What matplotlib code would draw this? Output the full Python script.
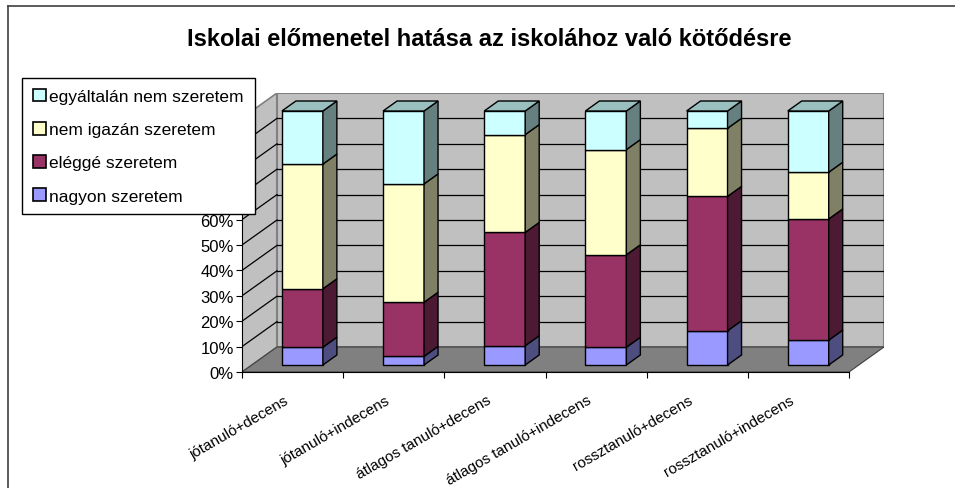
"""
Iskolai előmenetel hatása az iskolához való kötődésre - 3D stacked 100% bars
"""
import matplotlib.pyplot as plt
import matplotlib.transforms as mtransforms
from matplotlib.patches import Polygon, Patch
from matplotlib.lines import Line2D
import numpy as np

plt.rcParams['font.family'] = ['Liberation Sans', 'DejaVu Sans']

# adatok (%)
categories = ['jótanuló+decens', 'jótanuló+indecens', 'átlagos tanuló+decens',
              'átlagos tanuló+indecens', 'rossztanuló+decens', 'rossztanuló+indecens']
nagyon = [7.0, 3.4, 7.6, 7.0, 13.5, 9.8]
eleggé = [23.0, 21.3, 44.6, 36.4, 52.9, 47.7]
nem_igazan = [49.1, 46.6, 38.5, 41.4, 26.8, 18.4]
egyaltalan = [20.9, 28.7, 9.3, 15.2, 6.8, 24.1]

series = [nagyon, eleggé, nem_igazan, egyaltalan]
labels = ['nagyon szeretem', 'eléggé szeretem', 'nem igazán szeretem', 'egyáltalán nem szeretem']
front_cols = ['#9999FF', '#993366', '#FFFFCC', '#CCFFFF']
side_cols = ['#4D4D80', '#4D1A33', '#808066', '#668080']
top_cols = ['#7373BF', '#73264D', '#BFBF99', '#99BFBF']

# geometry (pixels of the reference picture)
W, H = 955, 489
x0_px, x1_px, y0_px, y100_px = 242, 849, 373, 119
ux = (x1_px - x0_px) / len(categories)
uy = (y0_px - y100_px) / 100
DX = 35 / ux      # depth offset in data units
DY = 25 / uy
d0, d1 = 0.28, 0.68
bw = 0.405

fig = plt.figure(figsize=(W / 100, H / 100), dpi=100)
ax = fig.add_axes([x0_px / W, (H - y0_px) / H,
                   (len(categories) + DX) * ux / W, (100 + DY) * uy / H])
n = len(categories)
ax.set_xlim(0, n + DX)
ax.set_ylim(0, 100 + DY)
ax.patch.set_alpha(0)

# walls and floor
wall = '#C0C0C0'
edge = '#808080'
ax.add_patch(Polygon([(0, 0), (DX, DY), (DX, 100 + DY), (0, 100)],
                     closed=True, fc=wall, ec=edge, lw=1.2, zorder=0))
ax.add_patch(Polygon([(DX, DY), (n + DX, DY), (n + DX, 100 + DY), (DX, 100 + DY)],
                     closed=True, fc=wall, ec=edge, lw=1.5, zorder=0))
ax.add_patch(Polygon([(0, 0), (n, 0), (n + DX, DY), (DX, DY)],
                     closed=True, fc='#808080', ec='#404040', lw=0.8, zorder=0.5))

# gridlines on back wall and left wall
for v in range(10, 100, 10):
    ax.plot([DX, n + DX], [v + DY, v + DY], color='black', lw=0.9, zorder=0.6)
    ax.plot([0, DX], [v, v + DY], color='black', lw=0.9, zorder=0.6)

# bars
xc = np.arange(n) + 0.5
bottom = np.zeros(n)
ddx, ddy = (d1 - d0) * DX, (d1 - d0) * DY
for k, vals in enumerate(series):
    vals = np.array(vals)
    ax.bar(xc + d0 * DX, vals, bottom=bottom + d0 * DY, width=bw,
           color=front_cols[k], edgecolor='black', lw=1.0, zorder=2)
    for i in range(n):
        xr = xc[i] + d0 * DX + bw / 2
        b = bottom[i] + d0 * DY
        t = b + vals[i]
        ax.add_patch(Polygon([(xr, b), (xr + ddx, b + ddy), (xr + ddx, t + ddy), (xr, t)],
                             closed=True, fc=side_cols[k], ec='black', lw=1.0, zorder=2))
        if k == len(series) - 1:
            xl = xr - bw
            ax.add_patch(Polygon([(xl, t), (xr, t), (xr + ddx, t + ddy), (xl + ddx, t + ddy)],
                                 closed=True, fc=top_cols[k], ec='black', lw=1.0, zorder=2))
    bottom = bottom + vals

# axes
for s in ['top', 'right']:
    ax.spines[s].set_visible(False)
ax.spines['left'].set_bounds(0, 100)
ax.spines['bottom'].set_bounds(0, n)
ax.spines['left'].set_zorder(3)
ax.spines['bottom'].set_zorder(3)
ax.set_yticks(np.arange(0, 101, 10))
ax.set_yticklabels([f'{v}%' for v in range(0, 101, 10)], fontsize=12)
ax.set_xticks(np.arange(0, n + 1))
ax.set_xticklabels([])
ax.set_xticks(xc, minor=True)
ax.set_xticklabels(categories, minor=True, fontsize=11, rotation=30,
                   ha='right', rotation_mode='anchor')
ax.tick_params(axis='y', direction='out', length=4, pad=2)
ax.tick_params(axis='x', which='major', direction='out', length=4)
ax.tick_params(axis='x', which='minor', length=0, pad=15)
shift = mtransforms.ScaledTranslation(-9 / 100, 0, fig.dpi_scale_trans)
for lab in ax.get_xticklabels(minor=True):
    lab.set_transform(lab.get_transform() + shift)

# title
fig.text(489 / W, 1 - 39 / H, 'Iskolai előmenetel hatása az iskolához való kötődésre',
         ha='center', va='center', fontsize=17, fontweight='bold')

# legend
handles = [Patch(fc=front_cols[k], ec='black', lw=1.2) for k in range(3, -1, -1)]
leg = fig.legend(handles, labels[::-1], loc='upper left',
                 bbox_to_anchor=(22 / W, 1 - 79 / H), fontsize=12.5,
                 frameon=True, fancybox=False, framealpha=1, borderaxespad=0,
                 handlelength=0.75, handleheight=0.75, handletextpad=0.2,
                 labelspacing=1.02, borderpad=0.62)
leg.get_frame().set_edgecolor('black')
leg.get_frame().set_linewidth(1.0)
leg.set_zorder(10)

# outer frame
fig.add_artist(Line2D([8 / W, 8 / W], [0, 1 - 7 / H], color='#404040', lw=1.2))
fig.add_artist(Line2D([8 / W, 1], [1 - 7 / H, 1 - 7 / H], color='#404040', lw=1.2))

plt.savefig('out.png', dpi=100)
